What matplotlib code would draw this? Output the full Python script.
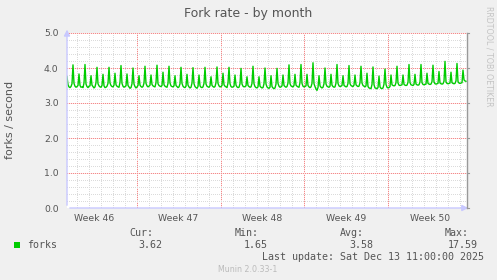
import datetime as dt

import matplotlib
matplotlib.use('Agg')
import matplotlib.pyplot as plt
import matplotlib.dates as mdates
import numpy as np

# %% data: 2-hour averages of forks/s, one row per day
fork_rate = [
    3.75, 3.52, 3.46, 3.44, 3.47, 3.55, 4.09, 3.56, 3.48, 3.45, 3.47, 3.50,
    3.83, 3.50, 3.45, 3.46, 3.44, 3.57, 4.10, 3.54, 3.47, 3.44, 3.48, 3.49,
    3.78, 3.51, 3.47, 3.43, 3.46, 3.58, 4.02, 3.55, 3.49, 3.46, 3.45, 3.50,
    3.82, 3.49, 3.44, 3.45, 3.48, 3.56, 4.02, 3.57, 3.50, 3.47, 3.46, 3.51,
    3.85, 3.52, 3.48, 3.46, 3.45, 3.59, 4.07, 3.56, 3.48, 3.45, 3.47, 3.49,
    3.83, 3.50, 3.46, 3.42, 3.44, 3.55, 4.00, 3.54, 3.47, 3.43, 3.46, 3.50,
    3.78, 3.51, 3.47, 3.45, 3.47, 3.57, 4.05, 3.56, 3.49, 3.46, 3.48, 3.51,
    3.80, 3.53, 3.49, 3.47, 3.46, 3.58, 4.08, 3.55, 3.50, 3.48, 3.47, 3.50,
    3.88, 3.52, 3.48, 3.46, 3.45, 3.56, 4.05, 3.57, 3.49, 3.47, 3.46, 3.49,
    3.78, 3.50, 3.47, 3.44, 3.46, 3.55, 4.02, 3.56, 3.48, 3.45, 3.44, 3.48,
    3.82, 3.51, 3.46, 3.43, 3.45, 3.57, 4.01, 3.55, 3.47, 3.44, 3.42, 3.47,
    3.80, 3.49, 3.45, 3.44, 3.46, 3.56, 4.02, 3.54, 3.48, 3.46, 3.45, 3.49,
    3.75, 3.50, 3.47, 3.45, 3.47, 3.58, 4.03, 3.56, 3.49, 3.46, 3.47, 3.50,
    3.85, 3.52, 3.48, 3.46, 3.44, 3.57, 4.02, 3.55, 3.47, 3.45, 3.46, 3.48,
    3.80, 3.51, 3.46, 3.44, 3.45, 3.55, 3.99, 3.54, 3.48, 3.46, 3.47, 3.49,
    3.75, 3.50, 3.47, 3.45, 3.46, 3.56, 4.05, 3.55, 3.47, 3.44, 3.43, 3.46,
    3.75, 3.48, 3.45, 3.43, 3.44, 3.55, 4.00, 3.54, 3.46, 3.43, 3.42, 3.45,
    3.78, 3.47, 3.43, 3.41, 3.43, 3.54, 3.99, 3.56, 3.48, 3.45, 3.46, 3.49,
    3.80, 3.50, 3.47, 3.45, 3.47, 3.57, 4.09, 3.55, 3.49, 3.47, 3.46, 3.50,
    3.82, 3.51, 3.48, 3.46, 3.45, 3.58, 4.10, 3.56, 3.48, 3.46, 3.47, 3.49,
    3.82, 3.50, 3.46, 3.44, 3.46, 3.56, 4.15, 3.55, 3.47, 3.40, 3.36, 3.44,
    3.78, 3.49, 3.45, 3.43, 3.45, 3.55, 4.00, 3.54, 3.48, 3.46, 3.45, 3.48,
    3.82, 3.51, 3.47, 3.45, 3.46, 3.57, 4.10, 3.56, 3.49, 3.47, 3.48, 3.50,
    3.78, 3.50, 3.48, 3.46, 3.47, 3.56, 4.07, 3.55, 3.50, 3.48, 3.47, 3.51,
    3.80, 3.52, 3.49, 3.47, 3.48, 3.58, 4.05, 3.57, 3.50, 3.48, 3.46, 3.49,
    3.85, 3.47, 3.43, 3.42, 3.41, 3.53, 4.03, 3.52, 3.43, 3.42, 3.41, 3.44,
    3.77, 3.46, 3.42, 3.41, 3.43, 3.54, 3.97, 3.53, 3.45, 3.43, 3.44, 3.47,
    3.80, 3.52, 3.50, 3.49, 3.50, 3.58, 4.05, 3.57, 3.51, 3.50, 3.51, 3.52,
    3.80, 3.53, 3.51, 3.50, 3.51, 3.59, 4.10, 3.58, 3.52, 3.51, 3.50, 3.53,
    3.82, 3.54, 3.52, 3.51, 3.52, 3.60, 4.10, 3.58, 3.53, 3.52, 3.53, 3.54,
    3.85, 3.56, 3.54, 3.53, 3.54, 3.61, 4.08, 3.60, 3.55, 3.54, 3.55, 3.56,
    3.90, 3.57, 3.55, 3.54, 3.55, 3.62, 4.19, 3.60, 3.56, 3.55, 3.56, 3.57,
    3.88, 3.58, 3.56, 3.55, 3.56, 3.63, 4.13, 3.61, 3.57, 3.56, 3.57, 3.58,
    3.94, 3.66, 3.63, 3.62,
]
last_update = dt.datetime(2025, 12, 13, 11, 0)
legend_label = 'forks'
stat_names = ['Cur:', 'Min:', 'Avg:', 'Max:']
stat_values = ['3.62', '1.65', '3.58', '17.59']
title = 'Fork rate - by month'
y_label = 'forks / second'

# %% time axis
step = dt.timedelta(hours=2)
n = len(fork_rate)
times = [last_update - (n - 1 - i) * step for i in range(n)]
t_start = times[0]
t_end = times[-1] + step
x0, x1 = mdates.date2num(t_start), mdates.date2num(t_end)
y0, y1 = 0, 5

# %% style
BG = '#F0F0F0'
TXT = '#555555'
GREEN = '#00CC00'
MINOR = (0.86, 0.86, 0.86)
MAJOR = (0.95, 0.55, 0.55)
MAJOR_GAP = (1.0, 0.9, 0.9)
AXIS = '#C8C8FF'

W, H = 497, 280
PW, PH = 400, 175   # plot area in pixels
fig = plt.figure(figsize=(W / 100, H / 100), dpi=100, facecolor=BG)
ax = fig.add_axes([67 / W, 72 / H, PW / W, PH / H])
ax.set_facecolor('white')
for s in ax.spines.values():
    s.set_visible(False)
ax.set_xlim(x0, x1)
ax.set_ylim(y0, y1)

# dotted munin grid, drawn pixel by pixel as a background image
grid = np.ones((PH, PW, 3))
day = dt.datetime(t_start.year, t_start.month, t_start.day) + dt.timedelta(days=1)
vlines = []
while day < t_end:
    col = int(round((mdates.date2num(day) - x0) / (x1 - x0) * PW))
    vlines.append((col, day.weekday() == 6))
    day += dt.timedelta(days=1)
hlines = []
for yv in np.arange(0.2, 5.01, 0.2):
    row = int(round((y1 - yv) / (y1 - y0) * PH))
    hlines.append((min(row, PH - 1), abs(yv - round(yv)) < 1e-6))
for col, major in sorted(vlines, key=lambda v: v[1]):
    if not 0 <= col < PW:
        continue
    if major:
        grid[1::2, col] = MAJOR_GAP
        grid[0::2, col] = MAJOR
    else:
        grid[0::2, col] = MINOR
for row, major in sorted(hlines, key=lambda v: v[1]):
    if major:
        grid[row, 1::2] = MAJOR_GAP
        grid[row, 0::2] = MAJOR
    else:
        grid[row, 0::2] = MINOR
ax.imshow(grid, extent=(x0, x1, y0, y1), aspect='auto', interpolation='none', zorder=0)

# week labels centred in each Sunday-started week
labels_x, labels = [], []
sun = dt.datetime(t_start.year, t_start.month, t_start.day)
while sun.weekday() != 6:
    sun -= dt.timedelta(days=1)
while sun < t_end:
    mid = sun + dt.timedelta(days=3, hours=12)
    if t_start < mid < t_end:
        labels_x.append(mdates.date2num(mid))
        labels.append('Week %d' % mid.isocalendar()[1])
    sun += dt.timedelta(days=7)
ax.set_xticks(labels_x)
ax.set_xticklabels(labels)
ax.set_yticks(np.arange(0, 5.01, 1.0))
ax.set_yticklabels(['%.1f' % v for v in np.arange(0, 5.01, 1.0)])
ax.tick_params(axis='both', length=0, labelsize=6.7, colors=TXT)
ax.tick_params(axis='x', pad=4)
ax.tick_params(axis='y', pad=6)

# data
ax.plot([mdates.date2num(t) for t in times], fork_rate, color=GREEN, lw=1.0, zorder=3)

# axes with arrows, right border
arrow = dict(arrowstyle='-|>,head_length=0.35,head_width=0.18', color=AXIS, lw=1)
ax.annotate('', xy=(0, 1.035), xytext=(0, 0), xycoords='axes fraction',
            arrowprops=arrow, annotation_clip=False, zorder=4)
ax.annotate('', xy=(1.01, 0), xytext=(0, 0), xycoords='axes fraction',
            arrowprops=arrow, annotation_clip=False, zorder=4)
ax.plot([1, 1], [0, 1], transform=ax.transAxes, color='#999999', lw=1.0, clip_on=False, zorder=4)
for yv in range(0, 6):
    ax.plot([1, 1.006], [yv / 5, yv / 5], transform=ax.transAxes, color='#999999', lw=0.8,
            clip_on=False)

# texts
fig.text(248 / W, 1 - 14 / H, title, ha='center', va='center', fontsize=9, color=TXT)
fig.text(10 / W, 1 - 120 / H, y_label, ha='center', va='center', rotation=90, fontsize=8,
         color=TXT)
fig.text(489 / W, 1 - 56 / H, 'RRDTOOL / TOBI OETIKER', ha='center', va='center',
         rotation=270, fontsize=5.7, color='#C4C4C4')

mono = dict(family='DejaVu Sans Mono', fontsize=7.2, color=TXT)
fig.patches.append(plt.Rectangle((14 / W, 1 - 248.3 / H), 6 / W, 6 / H, transform=fig.transFigure,
                                 facecolor=GREEN, edgecolor='none'))
fig.text(27 / W, 1 - 245.5 / H, legend_label, ha='left', va='center', **mono)
stat_right = [153, 259, 364, 469]
for x, name, val in zip(stat_right, stat_names, stat_values):
    fig.text(x / W, 1 - 233.5 / H, name, ha='right', va='center', **mono)
    fig.text((x + 9) / W, 1 - 245.5 / H, val, ha='right', va='center', **mono)
fig.text(484 / W, 1 - 257.5 / H, 'Last update: ' + last_update.strftime('%a %b %d %H:%M:%S %Y'),
         ha='right', va='center', **mono)
fig.text(248 / W, 1 - 269 / H, 'Munin 2.0.33-1', ha='center', va='center', fontsize=5.7,
         color='#BBBBBB')

fig.savefig('out.png', dpi=100, facecolor=BG)
